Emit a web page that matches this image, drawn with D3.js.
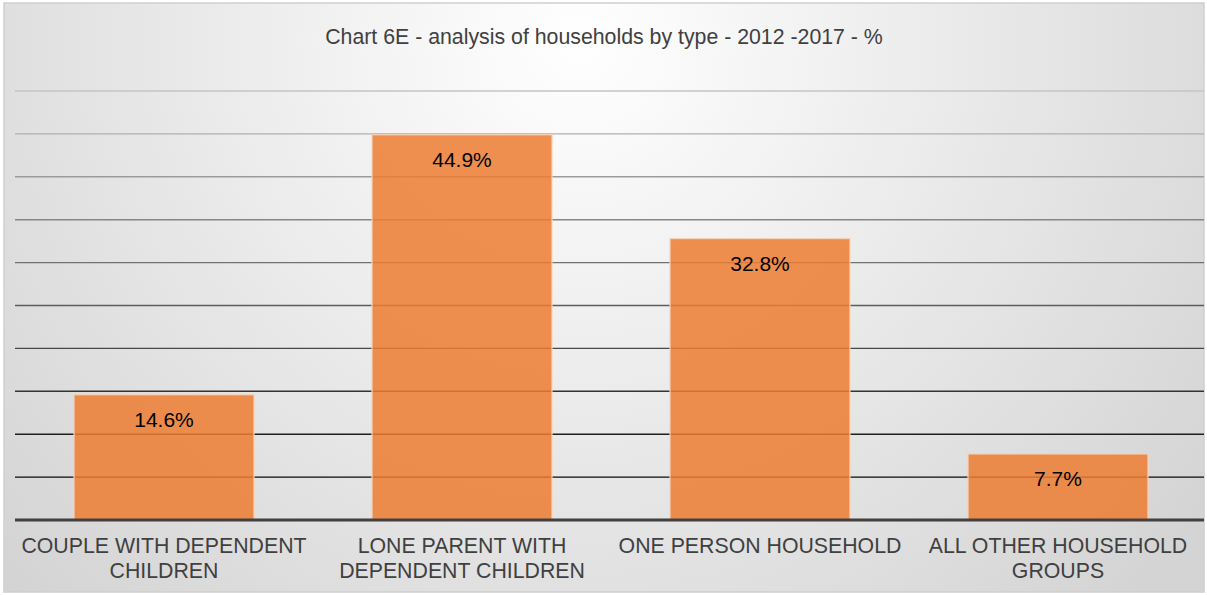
<!DOCTYPE html>
<html>
<head>
<meta charset="utf-8">
<script src="https://cdn.jsdelivr.net/npm/d3@7"></script>
<style>
  body { margin: 0; background: #fff; }
  text { font-family: "Liberation Sans", Arial, sans-serif; }
</style>
</head>
<body>
<svg width="1207" height="595"></svg>
<script>
// chart values
var categories = [["COUPLE WITH DEPENDENT", "CHILDREN"],
                  ["LONE PARENT WITH", "DEPENDENT CHILDREN"],
                  ["ONE PERSON HOUSEHOLD"],
                  ["ALL OTHER HOUSEHOLD", "GROUPS"]];
var values = [14.6, 44.9, 32.8, 7.7];
var yTicks = [5, 10, 15, 20, 25, 30, 35, 40, 45, 50];
var title = "Chart 6E - analysis of households by type - 2012 -2017 - %";

svg = d3.select("svg");

// background with soft radial shading
var defs = svg.append("defs");
var grad = defs.append("radialGradient")
  .attr("id", "bg")
  .attr("gradientUnits", "userSpaceOnUse")
  .attr("cx", 580).attr("cy", 40).attr("r", 780);
grad.append("stop").attr("offset", "0").attr("stop-color", "#ffffff");
grad.append("stop").attr("offset", "1").attr("stop-color", "#d4d4d4");

svg.append("rect")
  .attr("x", 4).attr("y", 3)
  .attr("width", 1200).attr("height", 589)
  .attr("fill", "url(#bg)")
  .attr("stroke", "#cfcfcf")
  .attr("stroke-width", 1.5);

left = 15;
right = 1204;
top_ = 91;
base = 520;

xScale = d3.scaleBand()
  .domain(d3.range(values.length))
  .range([15, 1207])
  .paddingInner(0.396)
  .paddingOuter(0.198);

yScale = d3.scaleLinear()
  .domain([0, 50])
  .range([base, top_]);

// gridlines get darker towards the bottom
gridColor = d3.scaleLinear()
  .domain([50, 5])
  .range(["#c4c4c4", "#0a0a0a"]);

g = svg.append("g");

g.selectAll("line.grid")
  .data(yTicks)
  .enter()
  .append("line")
  .attr("class", "grid")
  .attr("x1", left)
  .attr("x2", right)
  .attr("y1", function(d) {return yScale(d);})
  .attr("y2", function(d) {return yScale(d);})
  .attr("stroke", function(d) {return gridColor(d);})
  .attr("stroke-width", 1.4);

// bars, a little transparent so the gridlines show through
g.selectAll("rect.bar")
  .data(values)
  .enter()
  .append("rect")
  .attr("class", "bar")
  .attr("x", function(d, i) {return xScale(i);})
  .attr("y", function(d) {return yScale(d);})
  .attr("width", xScale.bandwidth())
  .attr("height", function(d) {return base - yScale(d);})
  .attr("fill", "rgba(237,125,49,0.85)")
  .attr("stroke", "#f6d2b8")
  .attr("stroke-width", 1.2);

// axis line
g.append("line")
  .attr("x1", left).attr("x2", right)
  .attr("y1", base).attr("y2", base)
  .attr("stroke", "#404040")
  .attr("stroke-width", 3);

// value labels inside the bars
g.selectAll("text.val")
  .data(values)
  .enter()
  .append("text")
  .attr("class", "val")
  .attr("x", function(d, i) {return xScale(i) + xScale.bandwidth() / 2;})
  .attr("y", function(d) {return yScale(d) + 32;})
  .attr("text-anchor", "middle")
  .attr("font-size", "21px")
  .attr("fill", "#000")
  .text(function(d) {return d.toFixed(1) + "%";});

// category labels
cat = g.selectAll("text.cat")
  .data(categories)
  .enter()
  .append("text")
  .attr("class", "cat")
  .attr("text-anchor", "middle")
  .attr("font-size", "21.3px")
  .attr("fill", "#404040");

cat.selectAll("tspan")
  .data(function(d, i) {return d.map(function(s) {return {s: s, i: i};});})
  .enter()
  .append("tspan")
  .attr("x", function(d) {return xScale(d.i) + xScale.bandwidth() / 2;})
  .attr("y", function(d, j) {return 553 + j * 25;})
  .text(function(d) {return d.s;});

// title
svg.append("text")
  .attr("x", 604)
  .attr("y", 44)
  .attr("text-anchor", "middle")
  .attr("font-size", "21.3px")
  .attr("fill", "#404040")
  .text(title);
</script>
</body>
</html>
